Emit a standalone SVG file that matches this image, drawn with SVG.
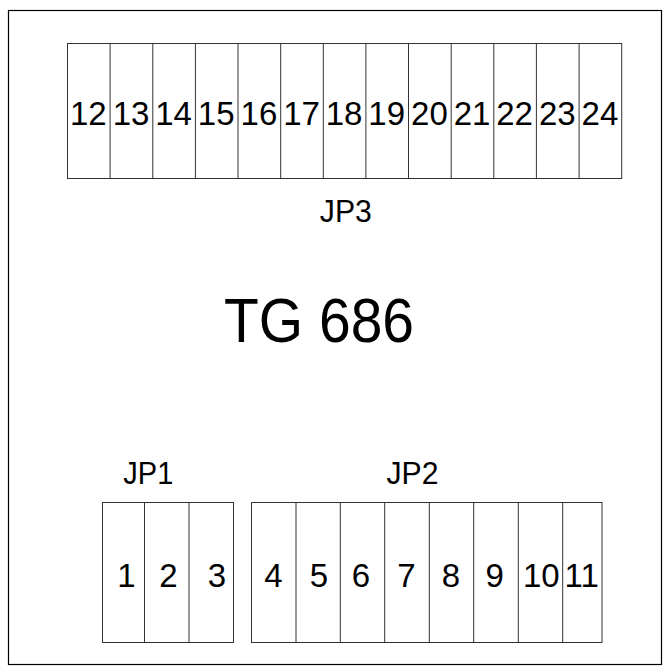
<svg xmlns="http://www.w3.org/2000/svg" width="670" height="672" viewBox="0 0 670 672">
<style>
.frame{fill:none;stroke:#000;stroke-width:1.2}
.box{fill:#fff;stroke:#333;stroke-width:1}
.cell{stroke:#333;stroke-width:1}
text{font-family:"Liberation Sans",Arial,sans-serif;fill:#000}
.n{font-size:33px;text-anchor:middle}
.lbl{font-size:31px;text-anchor:middle}
.title{font-size:63px;text-anchor:middle}
</style>
<rect class="frame" x="8.5" y="10.5" width="653" height="654"/>
<g id="JP3">
<rect class="box" x="67.5" y="43.5" width="554.2" height="135"/>
<g class="cell">
<line x1="110.1" y1="43.5" x2="110.1" y2="178.5"/>
<line x1="152.8" y1="43.5" x2="152.8" y2="178.5"/>
<line x1="195.4" y1="43.5" x2="195.4" y2="178.5"/>
<line x1="238" y1="43.5" x2="238" y2="178.5"/>
<line x1="280.7" y1="43.5" x2="280.7" y2="178.5"/>
<line x1="323.3" y1="43.5" x2="323.3" y2="178.5"/>
<line x1="365.9" y1="43.5" x2="365.9" y2="178.5"/>
<line x1="408.5" y1="43.5" x2="408.5" y2="178.5"/>
<line x1="451.2" y1="43.5" x2="451.2" y2="178.5"/>
<line x1="493.8" y1="43.5" x2="493.8" y2="178.5"/>
<line x1="536.4" y1="43.5" x2="536.4" y2="178.5"/>
<line x1="579.1" y1="43.5" x2="579.1" y2="178.5"/>
</g>
<text class="n" x="88.3" y="125">12</text>
<text class="n" x="131" y="125">13</text>
<text class="n" x="173.6" y="125">14</text>
<text class="n" x="216.2" y="125">15</text>
<text class="n" x="258.9" y="125">16</text>
<text class="n" x="301.5" y="125">17</text>
<text class="n" x="344.1" y="125">18</text>
<text class="n" x="386.7" y="125">19</text>
<text class="n" x="429.4" y="125">20</text>
<text class="n" x="472" y="125">21</text>
<text class="n" x="514.6" y="125">22</text>
<text class="n" x="557.3" y="125">23</text>
<text class="n" x="599.9" y="125">24</text>
<text class="lbl" x="345.8" y="221.7" textLength="52" lengthAdjust="spacingAndGlyphs">JP3</text>
</g>
<g id="title">
<text class="title" x="319" y="341.7" textLength="190" lengthAdjust="spacingAndGlyphs">TG 686</text>
</g>
<g id="JP1">
<rect class="box" x="102.5" y="502.5" width="131" height="140"/>
<g class="cell">
<line x1="144.5" y1="502.5" x2="144.5" y2="642.5"/>
<line x1="189" y1="502.5" x2="189" y2="642.5"/>
</g>
<text class="n" x="126.5" y="586.7">1</text>
<text class="n" x="168.5" y="586.7">2</text>
<text class="n" x="217" y="586.7">3</text>
<text class="lbl" x="148.3" y="484.3" textLength="50" lengthAdjust="spacingAndGlyphs">JP1</text>
</g>
<g id="JP2">
<rect class="box" x="251.5" y="502.5" width="350.5" height="140"/>
<g class="cell">
<line x1="296" y1="502.5" x2="296" y2="642.5"/>
<line x1="340.3" y1="502.5" x2="340.3" y2="642.5"/>
<line x1="384.7" y1="502.5" x2="384.7" y2="642.5"/>
<line x1="429.3" y1="502.5" x2="429.3" y2="642.5"/>
<line x1="473.7" y1="502.5" x2="473.7" y2="642.5"/>
<line x1="518.3" y1="502.5" x2="518.3" y2="642.5"/>
<line x1="562.7" y1="502.5" x2="562.7" y2="642.5"/>
</g>
<text class="n" x="273.5" y="586.7">4</text>
<text class="n" x="319" y="586.7">5</text>
<text class="n" x="361" y="586.7">6</text>
<text class="n" x="406.5" y="586.7">7</text>
<text class="n" x="451" y="586.7">8</text>
<text class="n" x="494.7" y="586.7">9</text>
<text class="n" x="541.3" y="586.7">10</text>
<text class="n" x="581.7" y="586.7">11</text>
<text class="lbl" x="412.5" y="484.3" textLength="52" lengthAdjust="spacingAndGlyphs">JP2</text>
</g>
<g id="connectors"></g>
</svg>
